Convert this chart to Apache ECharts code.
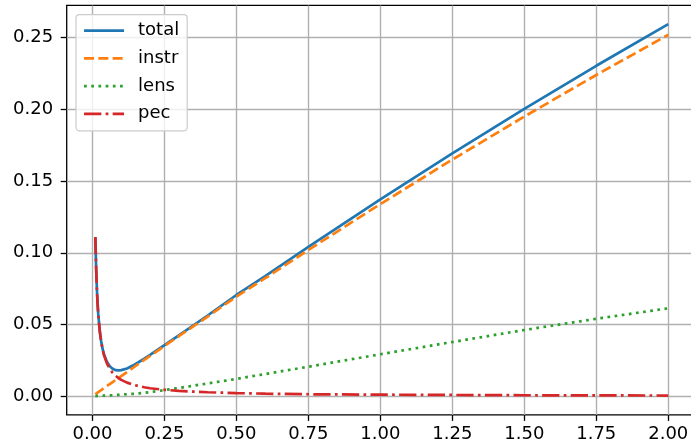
<!DOCTYPE html>
<html>
<head>
<meta charset="utf-8">
<script src="https://cdn.jsdelivr.net/npm/echarts@6/dist/echarts.min.js"></script>
<style>
html,body{margin:0;padding:0;background:#fff;}
#c{width:691px;height:444px;}
</style>
</head>
<body>
<div id="c"></div>
<script>
// redshift samples
var zVals = [0.01, 0.0125, 0.015, 0.0175, 0.02, 0.025, 0.03, 0.035, 0.04, 0.05, 0.06, 0.07, 0.08, 0.09, 0.1,
  0.12, 0.14, 0.16, 0.18, 0.2, 0.25, 0.3, 0.4, 0.5, 0.6, 0.75, 1.0, 1.25, 1.5, 1.75, 2.0];
var totalVals = [0.1110, 0.0910, 0.0765, 0.0655, 0.0576, 0.0461, 0.0385, 0.0332, 0.0293, 0.0241, 0.0209, 0.0192, 0.0182, 0.0180, 0.0182,
  0.0194, 0.0214, 0.0237, 0.0262, 0.0288, 0.0356, 0.0425, 0.0563, 0.0706, 0.0838, 0.1041, 0.1372, 0.1693, 0.2004, 0.2304, 0.2594];
var instrVals = [0.0014, 0.0018, 0.0021, 0.0025, 0.0028, 0.0035, 0.0043, 0.0050, 0.0057, 0.0071, 0.0085, 0.0099, 0.0113, 0.0127, 0.0141,
  0.0169, 0.0197, 0.0225, 0.0253, 0.0281, 0.0350, 0.0419, 0.0555, 0.0695, 0.0823, 0.1020, 0.1340, 0.1650, 0.1950, 0.2240, 0.2520];
var lensVals = [0.0001, 0.0001, 0.0001, 0.0002, 0.0002, 0.0003, 0.0003, 0.0004, 0.0004, 0.0005, 0.0006, 0.0007, 0.0008, 0.0010, 0.0011,
  0.0014, 0.0017, 0.0020, 0.0024, 0.0029, 0.0043, 0.0058, 0.0089, 0.0121, 0.0155, 0.0206, 0.0293, 0.0378, 0.0462, 0.0540, 0.0613];
var pecVals = [0.1110, 0.0910, 0.0765, 0.0655, 0.0575, 0.0460, 0.0383, 0.0328, 0.0287, 0.0230, 0.0191, 0.0164, 0.0143, 0.0127, 0.0114,
  0.0095, 0.0081, 0.0071, 0.0063, 0.0056, 0.0045, 0.0037, 0.0028, 0.0022, 0.0018, 0.0014, 0.0011, 0.0009, 0.0007, 0.0006, 0.0005];
var xTicks = [0, 0.25, 0.5, 0.75, 1.0, 1.25, 1.5, 1.75, 2.0];
var yTicks = [0, 0.05, 0.10, 0.15, 0.20, 0.25];
var seriesNames = ['total', 'instr', 'lens', 'pec'];

function pairs(ys) { return zVals.map(function (z, i) { return [z, ys[i]]; }); }

var colors = ['#1f77b4', '#ff7f0e', '#2ca02c', '#d62728'];
var dashes = ['solid', [10, 4.3], [2.7, 4.5], [17.3, 4.3, 2.7, 4.3]];
var allVals = [totalVals, instrVals, lensVals, pecVals];
var FONT = 'DejaVu Sans';

var chart = echarts.init(document.getElementById('c'), null, {renderer: 'canvas'});
var option = {
  animation: false,
  backgroundColor: '#ffffff',
  grid: {
    left: 66.7, top: 5.4, width: 630.2, height: 409.5,
    show: true, borderColor: '#000000', borderWidth: 1.3, backgroundColor: 'transparent',
    containLabel: false, outerBoundsMode: 'none'
  },
  legend: {
    orient: 'vertical',
    left: 76, top: 14.7,
    padding: [7, 8, 8, 6.7],
    itemWidth: 40, itemHeight: 18, itemGap: 9.7,
    backgroundColor: 'rgba(255,255,255,0.8)',
    borderColor: '#cccccc', borderWidth: 1.2, borderRadius: 3.5,
    itemStyle: {color: 'transparent', borderWidth: 0, opacity: 0},
    lineStyle: {width: 2.7},
    textStyle: {fontFamily: FONT, fontSize: 18, color: '#000', lineHeight: 18, padding: [0, 0, 0, 9]},
    data: seriesNames
  },
  xAxis: {
    type: 'value', min: -0.0895, max: 2.0995,
    axisLine: {show: false, onZero: false},
    axisTick: {show: true, length: 6, lineStyle: {color: '#000', width: 1.3}, customValues: xTicks},
    axisLabel: {customValues: xTicks, fontFamily: FONT, fontSize: 18, color: '#000', margin: 10,
      formatter: function (v) { return v.toFixed(2); }},
    splitLine: {show: true, lineStyle: {color: '#b0b0b0', width: 1.4}}
  },
  yAxis: {
    type: 'value', min: -0.013, max: 0.2725,
    axisLine: {show: false, onZero: false},
    axisTick: {show: true, length: 6, lineStyle: {color: '#000', width: 1.3}, customValues: yTicks},
    axisLabel: {customValues: yTicks, fontFamily: FONT, fontSize: 18, color: '#000', margin: 13.5,
      formatter: function (v) { return v.toFixed(2); }},
    splitLine: {show: true, lineStyle: {color: '#b0b0b0', width: 1.4}}
  },
  series: seriesNames.map(function (n, i) {
    return {
      name: n, type: 'line', data: pairs(allVals[i]),
      showSymbol: false, symbol: 'none', smooth: false,
      lineStyle: {color: colors[i], width: 2.7, type: dashes[i]},
      itemStyle: {color: colors[i]},
      z: 2 + i
    };
  })
};
chart.setOption(option);
</script>
</body>
</html>
